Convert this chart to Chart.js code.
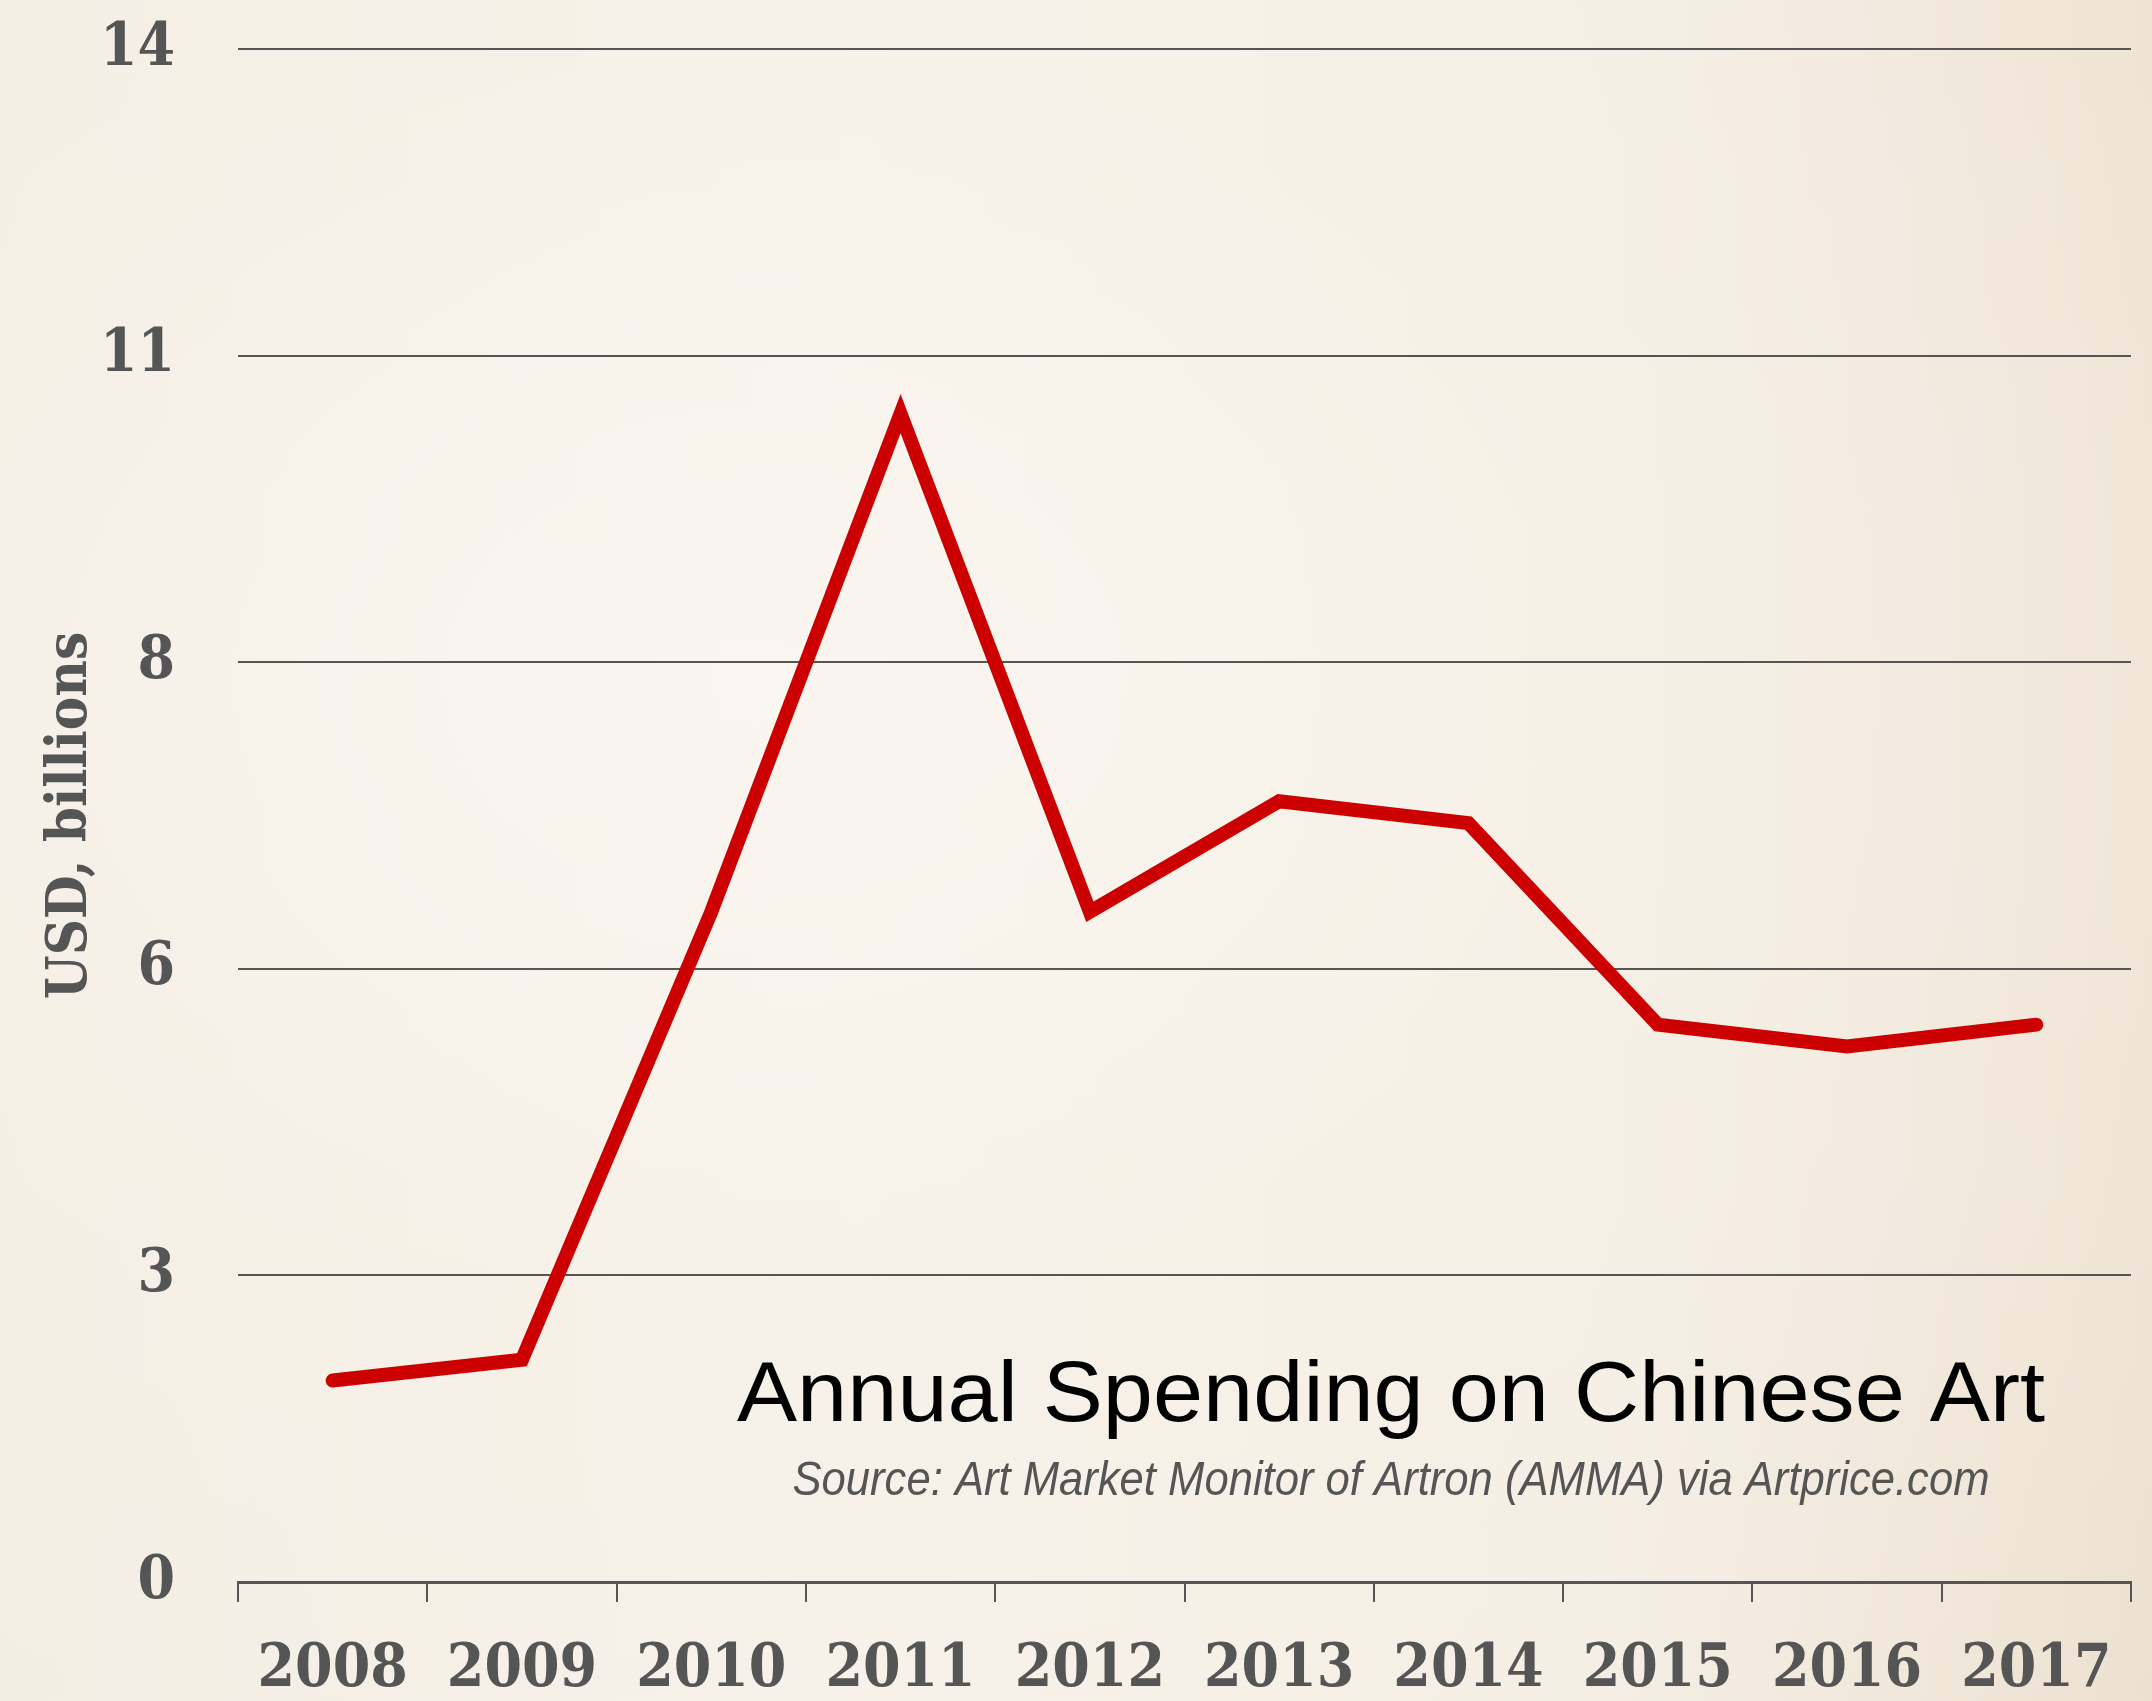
<!DOCTYPE html>
<html>
<head>
<meta charset="utf-8">
<script src="https://cdn.jsdelivr.net/npm/chart.js@4/dist/chart.umd.min.js"></script>
<style>
  html, body { margin: 0; padding: 0; }
  body {
    width: 2152px; height: 1701px; overflow: hidden;
    background:
      radial-gradient(ellipse at 35% 40%, rgba(250,246,240,0.9) 0%, rgba(247,241,232,0.6) 45%, rgba(238,226,210,0.0) 100%),
      linear-gradient(90deg, #f2ece3 0%, #f7f2ea 40%, #f4ede3 75%, #ece1d0 100%);
  }
  #wrap { position: absolute; left: 0; top: 0; width: 2152px; height: 1701px; }
</style>
</head>
<body>
<div id="wrap"><canvas id="c" width="2152" height="1701"></canvas></div>
<script>
const categories = ['2008', '2009', '2010', '2011', '2012', '2013', '2014', '2015', '2016', '2017'];
const spending = [1.84, 2.03, 6.12, 10.67, 6.12, 7.13, 6.93, 5.09, 4.89, 5.09];
const yTickValues = [0, 2.8, 5.6, 8.4, 11.2, 14];
const yTickLabels = ['0', '3', '6', '8', '11', '14'];
const yAxisTitle = 'USD, billions';
const chartTitle = 'Annual Spending on Chinese Art';
const chartSource = 'Source: Art Market Monitor of Artron (AMMA) via Artprice.com';

const serifBold = "'DejaVu Serif Condensed', 'DejaVu Serif', serif";

const textPlugin = {
  id: 'titleText',
  afterDraw(chart) {
    const ctx = chart.ctx;
    ctx.save();
    ctx.textAlign = 'center';
    ctx.textBaseline = 'alphabetic';
    const cx = 1391;
    ctx.fillStyle = '#000000';
    ctx.font = "86px 'Liberation Sans', Arial, sans-serif";
    let w = ctx.measureText(chartTitle).width;
    let target = 1308;
    ctx.save();
    ctx.translate(cx, 1421);
    ctx.scale(target / w, 1);
    ctx.fillText(chartTitle, 0, 0);
    ctx.restore();
    ctx.fillStyle = '#555555';
    ctx.font = "italic 48px 'Liberation Sans', Arial, sans-serif";
    w = ctx.measureText(chartSource).width;
    target = 1197;
    ctx.save();
    ctx.translate(cx, 1495);
    ctx.scale(target / w, 1);
    ctx.fillText(chartSource, 0, 0);
    ctx.restore();
    ctx.restore();
  }
};

new Chart(document.getElementById('c'), {
  type: 'line',
  data: {
    labels: categories,
    datasets: [{
      data: spending,
      borderColor: '#cc0000',
      borderWidth: 14,
      pointRadius: 0,
      tension: 0,
      borderCapStyle: 'round',
      borderJoinStyle: 'miter',
      fill: false
    }]
  },
  options: {
    responsive: false,
    animation: false,
    devicePixelRatio: 1,
    layout: { autoPadding: false, padding: { left: 0, right: 21, top: 49, bottom: 0 } },
    plugins: {
      legend: { display: false },
      tooltip: { enabled: false },
      title: { display: false }
    },
    scales: {
      x: {
        type: 'category',
        offset: true,
        grid: {
          offset: true,
          drawOnChartArea: false,
          drawTicks: true,
          tickLength: 20,
          color: '#555555',
          lineWidth: 2
        },
        border: { display: true, color: '#555555', width: 3 },
        ticks: {
          color: '#555555',
          font: { family: serifBold, size: 60, weight: 'bold' },
          padding: 32,
          maxRotation: 0,
          autoSkip: false
        },
        afterFit(scale) { scale.height = 119; scale.paddingLeft = 0; scale.paddingRight = 0; }
      },
      y: {
        min: 0,
        max: 14,
        afterBuildTicks(scale) {
          scale.ticks = yTickValues.map(v => ({ value: v }));
        },
        grid: {
          drawTicks: false,
          color: '#555555',
          lineWidth: 2
        },
        border: { display: false },
        ticks: {
          color: '#555555',
          font: { family: serifBold, size: 60, weight: 'bold' },
          padding: 63,
          callback(value, index) { return yTickLabels[index]; }
        },
        title: {
          display: true,
          text: yAxisTitle,
          color: '#555555',
          font: { family: serifBold, size: 56, weight: 'bold' },
          padding: { top: 38, bottom: 0 }
        },
        afterFit(scale) { scale.width = 238; scale.paddingTop = 0; scale.paddingBottom = 0; }
      }
    }
  },
  plugins: [textPlugin]
});
</script>
</body>
</html>
